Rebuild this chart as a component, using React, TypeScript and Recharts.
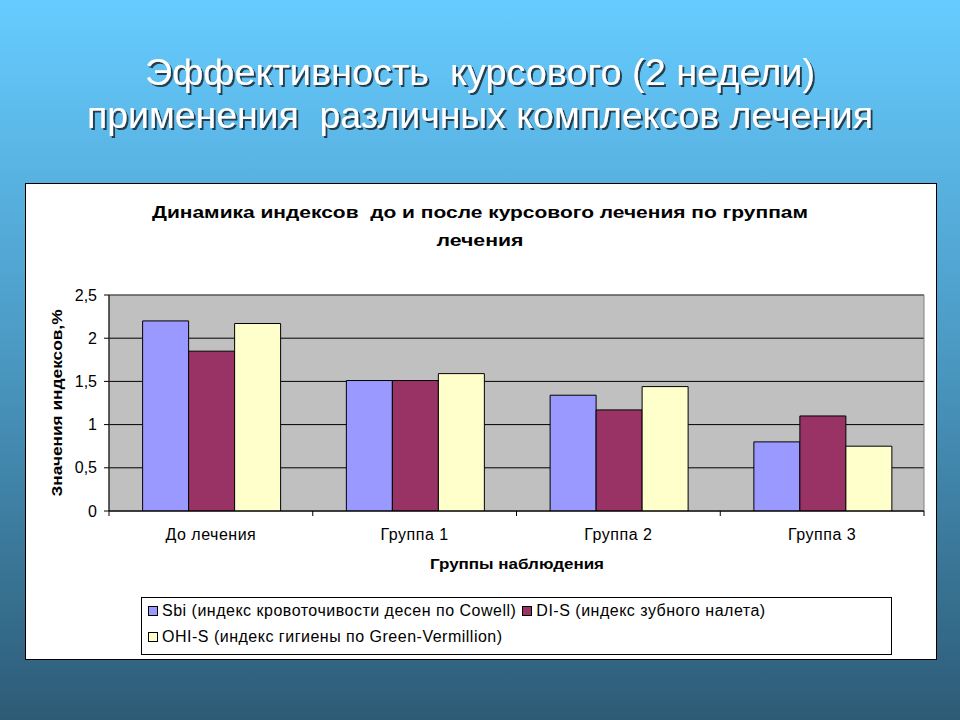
import React from 'react';
import { BarChart, Bar, XAxis, YAxis, CartesianGrid, ReferenceArea } from 'recharts';

const categories = ['До лечения', 'Группа 1', 'Группа 2', 'Группа 3'];
const sbiValues = [2.2, 1.51, 1.34, 0.8];
const disValues = [1.85, 1.51, 1.17, 1.1];
const ohisValues = [2.17, 1.59, 1.44, 0.75];
const yTicks = [0, 0.5, 1, 1.5, 2, 2.5];
const seriesKeys = ['sbi', 'dis', 'ohis'];
const seriesNames = [
  'Sbi (индекс кровоточивости десен по Cowell)',
  'DI-S (индекс зубного налета)',
  'OHI-S (индекс гигиены по Green-Vermillion)',
];
const seriesColors = ['#9999FF', '#993366', '#FFFFCC'];

const slideTitle = ['Эффективность  курсового (2 недели)', 'применения  различных комплексов лечения'];
const chartTitle = ['Динамика индексов  до и после курсового лечения по группам', 'лечения'];
const yTitle = 'Значения индексов,%';
const xTitle = 'Группы наблюдения';

const FONT = '"Liberation Sans", Arial, Helvetica, sans-serif';
const X_TICK_MARGIN = 18;

const data = categories.map((c, i) => ({
  name: c,
  sbi: sbiValues[i],
  dis: disValues[i],
  ohis: ohisValues[i],
}));

const XTick = (props: any) => {
  const { x, y, payload, index, visibleTicksCount } = props;
  const off = payload && payload.offset ? payload.offset : 0;
  const axisY = y - X_TICK_MARGIN;
  const last = index === (visibleTicksCount ?? categories.length) - 1;
  return (
    <g>
      <line x1={x - off} x2={x - off} y1={axisY} y2={axisY + 5} stroke="#000" />
      {last && <line x1={x + off} x2={x + off} y1={axisY} y2={axisY + 5} stroke="#000" />}
      <text
        x={x}
        y={y}
        dy="0.71em"
        textAnchor="middle"
        fontSize={16}
        letterSpacing={0.5}
        fontFamily={FONT}
        fill="#000"
      >
        {payload.value}
      </text>
    </g>
  );
};

export default function App() {
  return (
    <div
      style={{
        position: 'absolute',
        left: 0,
        top: 0,
        width: 960,
        height: 720,
        overflow: 'hidden',
        background: 'linear-gradient(to bottom, #66CCFF 0%, #4A98C2 50%, #2D5B76 100%)',
        fontFamily: FONT,
      }}
    >
      <div
        style={{
          position: 'absolute',
          left: 25,
          top: 183,
          width: 912,
          height: 477,
          background: '#fff',
          border: '1px solid #000',
          boxSizing: 'border-box',
        }}
      />
      <div style={{ position: 'absolute', left: 0, top: 0 }}>
        <BarChart
          width={960}
          height={720}
          data={data}
          margin={{ top: 295, right: 36, bottom: 179, left: 49 }}
          barCategoryGap="16.5%"
          barGap={0}
        >
          <CartesianGrid vertical={false} fill="#C0C0C0" fillOpacity={1} stroke="#000" />
          <ReferenceArea y1={0} y2={2.5} fill="none" stroke="#808080" ifOverflow="visible" />
          <XAxis
            dataKey="name"
            axisLine={{ stroke: '#000' }}
            tickLine={false}
            tickSize={0}
            tickMargin={X_TICK_MARGIN}
            height={30}
            tick={<XTick />}
            interval={0}
          />
          <YAxis
            domain={[0, 2.5]}
            ticks={yTicks}
            width={60}
            axisLine={{ stroke: '#000' }}
            tickLine={{ stroke: '#000' }}
            tickSize={5}
            tickMargin={7}
            tick={{ fill: '#000', fontSize: 16, fontFamily: FONT }}
            tickFormatter={(v: number) => String(v).replace('.', ',')}
            allowDataOverflow
          />
          {seriesKeys.map((k, i) => (
            <Bar
              key={k}
              dataKey={k}
              name={seriesNames[i]}
              fill={seriesColors[i]}
              stroke="#000"
              strokeWidth={1}
              isAnimationActive={false}
            />
          ))}
        </BarChart>
      </div>
      <svg
        width={960}
        height={720}
        style={{ position: 'absolute', left: 0, top: 0, pointerEvents: 'none', whiteSpace: 'pre' }}
      >
        <defs>
          <filter id="titleShadow" x="-10%" y="-30%" width="120%" height="160%">
            <feDropShadow dx={2} dy={2} stdDeviation={0.4} floodColor="#1f3340" floodOpacity={0.9} />
          </filter>
        </defs>
        {slideTitle.map((t, i) => (
          <text
            key={t}
            x={480}
            y={85 + i * 43}
            textAnchor="middle"
            fontSize={36}
            fontFamily={FONT}
            fill="#ffffff"
            filter="url(#titleShadow)"
            textLength={i === 0 ? 670 : 786}
            lengthAdjust="spacingAndGlyphs"
            xmlSpace="preserve"
          >
            {t}
          </text>
        ))}
        {chartTitle.map((t, i) => (
          <text
            key={t}
            x={480}
            y={218 + i * 28}
            textAnchor="middle"
            fontSize={17}
            fontWeight="bold"
            fontFamily={FONT}
            fill="#000"
            textLength={i === 0 ? 656 : 87}
            lengthAdjust="spacingAndGlyphs"
            xmlSpace="preserve"
          >
            {t}
          </text>
        ))}
        <text
          x={62}
          y={403}
          transform="rotate(-90 62 403)"
          textAnchor="middle"
          fontSize={15}
          fontWeight="bold"
          fontFamily={FONT}
          fill="#000"
          textLength={187}
          lengthAdjust="spacingAndGlyphs"
        >
          {yTitle}
        </text>
        <text
          x={517}
          y={569}
          textAnchor="middle"
          fontSize={15}
          fontWeight="bold"
          fontFamily={FONT}
          fill="#000"
          textLength={174}
          lengthAdjust="spacingAndGlyphs"
        >
          {xTitle}
        </text>
      </svg>
      <div
        style={{
          position: 'absolute',
          left: 141,
          top: 597,
          width: 751,
          height: 58,
          border: '1px solid #000',
          boxSizing: 'border-box',
          background: '#fff',
          fontSize: 16,
          letterSpacing: 0.5,
          color: '#000',
        }}
      >
        {[[0, 1], [2]].map((row, ri) => (
          <div
            key={ri}
            style={{
              position: 'absolute',
              left: 6,
              top: 3 + ri * 26,
              height: 20,
              display: 'flex',
              alignItems: 'center',
              whiteSpace: 'nowrap',
            }}
          >
            {row.map((si) => (
              <span key={si} style={{ display: 'inline-flex', alignItems: 'center', marginRight: 6 }}>
                <span
                  style={{
                    display: 'inline-block',
                    width: 8,
                    height: 8,
                    background: seriesColors[si],
                    border: '1px solid #000',
                    marginRight: 4,
                  }}
                />
                <span>{seriesNames[si]}</span>
              </span>
            ))}
          </div>
        ))}
      </div>
    </div>
  );
}
